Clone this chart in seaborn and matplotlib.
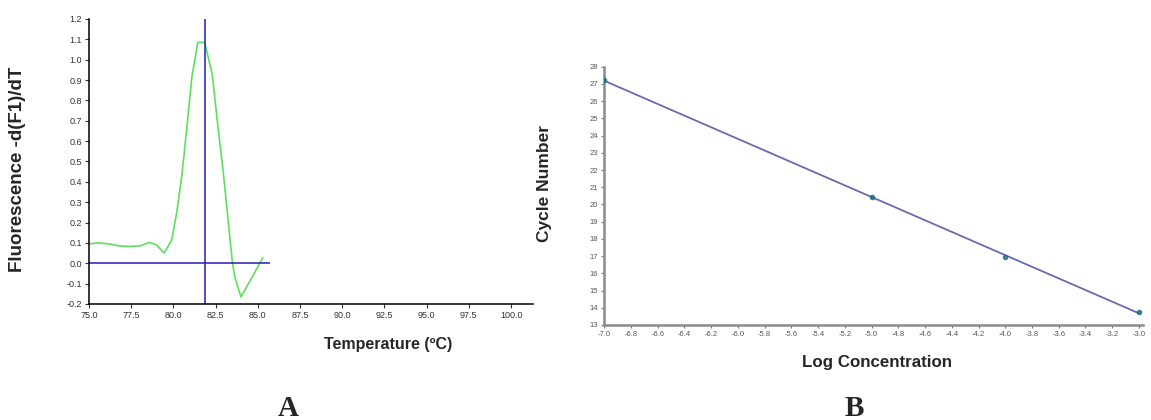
import numpy as np
import pandas as pd
import seaborn as sns
import matplotlib.pyplot as plt

# melt curve (panel A)
temps = [75.0, 75.6, 76.2, 76.8, 77.4, 78.0, 78.6, 79.0, 79.45, 79.9, 80.2,
         80.5, 80.8, 81.1, 81.45, 81.85, 82.3, 82.6, 82.95, 83.5, 83.65,
         84.0, 84.65, 85.3]
deriv = [0.095, 0.10, 0.095, 0.085, 0.083, 0.085, 0.103, 0.09, 0.05, 0.115,
         0.25, 0.43, 0.67, 0.92, 1.085, 1.085, 0.93, 0.70, 0.45, 0.0, -0.07,
         -0.165, -0.07, 0.028]
tm_peak = 81.85
baseline_end = 85.7

# standard curve (panel B)
log_conc = [-7.0, -5.0, -4.0, -3.0]
cycles = [27.2, 20.45, 16.95, 13.75]

temp_ticks = np.arange(75.0, 100.1, 2.5)
deriv_ticks = np.arange(-0.2, 1.21, 0.1)
conc_ticks = np.arange(-7.0, -2.99, 0.2)
cycle_ticks = np.arange(13, 29, 1)

sns.set_theme(style="ticks")
plt.rcParams['font.family'] = ['Liberation Sans', 'DejaVu Sans']

fig = plt.figure(figsize=(11.51, 4.2), dpi=100)
ax1 = fig.add_axes([0.0773, 0.2762, 0.3858, 0.6786])
ax2 = fig.add_axes([0.525, 0.2262, 0.468, 0.615])

# ---- panel A
melt = pd.DataFrame({"temp": temps, "deriv": deriv})
sns.lineplot(data=melt, x="temp", y="deriv", ax=ax1, color="#5ee05e", lw=1.2)
ax1.axvline(tm_peak, color="#1f1fb4", lw=1.1)
ax1.hlines(0.0, temps[0], baseline_end, color="#1f1fb4", lw=1.1)

ax1.set(xlim=(75, 101.3), ylim=(-0.2, 1.2), xlabel="", ylabel="")
ax1.set_xticks(temp_ticks)
ax1.set_xticklabels([f"{t:.1f}" for t in temp_ticks])
ax1.set_yticks(deriv_ticks)
ax1.set_yticklabels([f"{v:.1f}" for v in deriv_ticks])
ax1.tick_params(labelsize=6.5, labelcolor="#333333", length=3, width=0.8,
                color="#333333", pad=2)
for s in ["top", "right"]:
    ax1.spines[s].set_visible(False)
for s in ["left", "bottom"]:
    ax1.spines[s].set_color("black")
    ax1.spines[s].set_linewidth(1.1)

# ---- panel B
std = pd.DataFrame({"logc": log_conc, "ct": cycles})
sns.regplot(data=std, x="logc", y="ct", ax=ax2, ci=None,
            scatter_kws=dict(s=9, color="#1d6e78", zorder=3),
            line_kws=dict(color="#6a6aae", lw=1.3))
ax2.set(xlim=(-7.0, -2.97), ylim=(13, 28), xlabel="", ylabel="")
ax2.set_xticks(conc_ticks)
ax2.set_xticklabels([f"{v:.1f}" for v in conc_ticks])
ax2.set_yticks(cycle_ticks)
ax2.tick_params(labelsize=5.5, labelcolor="#555555", length=2.5, width=0.8,
                color="#777777", pad=2)
for s in ["top", "right"]:
    ax2.spines[s].set_visible(False)
for s in ["left", "bottom"]:
    ax2.spines[s].set_color("#8a8a8a")
    ax2.spines[s].set_linewidth(1.8)

# ---- labels
fig.text(18 / 1151, 1 - 169 / 420, "Fluorescence -d(F1)/dT", rotation=90,
         ha="center", va="center", fontsize=13.5, fontweight="bold")
fig.text(388 / 1151, 1 - 345 / 420, "Temperature (ºC)", ha="center",
         va="center", fontsize=11.5, fontweight="bold")
fig.text(545 / 1151, 1 - 183 / 420, "Cycle Number", rotation=90,
         ha="center", va="center", fontsize=12.5, fontweight="bold")
fig.text(877 / 1151, 1 - 363 / 420, "Log Concentration", ha="center",
         va="center", fontsize=12.2, fontweight="bold")
fig.text(288 / 1151, 1 - 408 / 420, "A", ha="center", va="center",
         fontsize=21, fontweight="bold", family=["Liberation Serif"])
fig.text(854 / 1151, 1 - 408 / 420, "B", ha="center", va="center",
         fontsize=21, fontweight="bold", family=["Liberation Serif"])

fig.savefig("out.png", dpi=100)
